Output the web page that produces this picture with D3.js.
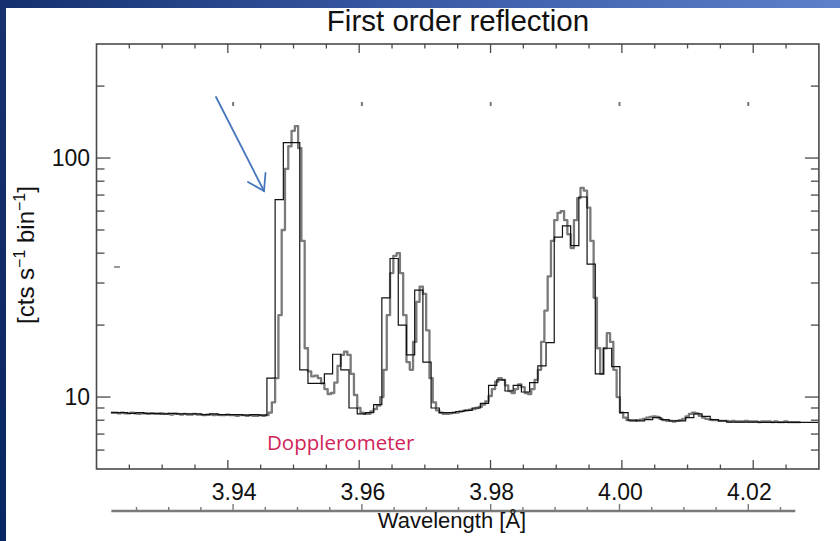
<!DOCTYPE html>
<html><head><meta charset="utf-8">
<script src="https://cdn.jsdelivr.net/npm/d3@7"></script>
<style>body{margin:0;background:#fff}svg{display:block}</style>
</head><body>
<svg id="c" width="840" height="541"></svg>
<script>
// ---- data ----
const grayStart = 3.9222, grayStep = 0.0005;
const grayCounts = [
 8.6,8.6,8.55,8.6,8.55,8.55,8.6,8.55,8.5,8.55,
 8.55,8.5,8.55,8.5,8.5,8.55,8.5,8.5,8.45,8.5,
 8.5,8.45,8.5,8.45,8.45,8.5,8.45,8.45,8.4,8.45,
 8.45,8.4,8.45,8.4,8.4,8.45,8.4,8.4,8.35,8.4,
 8.4,8.35,8.4,8.35,8.35,8.4,8.35,
 8.4,8.6,9.5,12,22,50,90,112,130,136,110,45,16,
 12.8,12.2,12.3,12.0,11.4,10.8,10.3,10.4,11.5,13.5,
 15.0,15.5,15.0,12.5,10.2,9.0,8.6,8.5,8.5,8.7,
 8.9,9.2,10,13,22,33,39,40,33,22,
 14,13,17,25,29,27,19,12,9.5,8.8,
 8.6,8.5,8.5,8.55,8.6,8.6,8.7,8.75,8.8,8.85,
 8.9,9.0,9.1,9.3,9.6,10.1,10.8,11.6,12.0,11.8,
 11.2,10.6,10.4,10.8,11.3,11.0,10.4,10.3,10.8,11.8,
 13,17,23,32,45,55,59,60,55,48,
 42,55,68,75,73,62,45,26,16,12.5,
 16,18.5,17,13,10,8.6,8.2,8.0,7.95,7.95,
 8.0,8.05,8.1,8.2,8.25,8.3,8.25,8.1,8.0,7.95,
 7.95,7.9,7.95,8.0,8.1,8.3,8.5,8.6,8.55,8.35,
 8.2,8.1,8.05,8.0,8.0,7.95,7.95,7.95,7.9,7.95,
 7.9,7.9,7.9,7.95,7.9,7.9,7.9,7.85,7.9,7.9,
 7.9,7.85,7.9,7.85,7.85,7.9,7.85,7.85,7.85,7.85
];
const blackStart = 3.9222, blackStep = 0.00125;
const blackCounts = [
 8.6,8.6,8.55,8.6,8.55,8.55,8.5,8.55,8.5,8.5,8.5,8.45,8.5,8.45,8.45,8.45,8.4,8.45,8.4,
 12.0,67,116,116,13.0,11.4,11.4,12.5,15.1,13,9.0,
 8.5,8.6,9.3,26,38,20,15,28,14,9.0,
 8.6,8.6,8.7,8.8,9.0,9.4,11.2,11.8,10.6,11.2,
 10.5,11.5,13.5,16.9,46.7,52,43,68.7,36,12.5,
 16,13.4,8.6,8.0,7.95,8.05,8.2,8.05,7.95,7.95,
 8.2,8.5,8.3,8.05,7.95,7.85,7.85,7.85,7.85,7.84,
 7.84,7.84,7.84,7.84,7.84,7.84,7.84
];
const xMajorTicks = [3.94, 3.96, 3.98, 4.00, 4.02];
const xTickLabels = ["3.94", "3.96", "3.98", "4.00", "4.02"];
const yMajorTicks = [10, 100];
const yTickLabels = ["10", "100"];
const yMinorTicks = [6,7,8,9,20,30,40,50,60,70,80,90,200];
const title = "First order reflection";
const xTitle = "Wavelength [Å]";
const annotation = "Dopplerometer";

// ---- drawing ----
const svg = d3.select('#c');
const defs = svg.append('defs');
const gTop = defs.append('linearGradient').attr('id','gt').attr('x1','0').attr('x2','1').attr('y1','0').attr('y2','0');
gTop.append('stop').attr('offset','0').attr('stop-color','#14306e');
gTop.append('stop').attr('offset','0.5').attr('stop-color','#3a5aa6');
gTop.append('stop').attr('offset','1').attr('stop-color','#5c80ca');
const gLeft = defs.append('linearGradient').attr('id','gl').attr('x1','0').attr('x2','0').attr('y1','0').attr('y2','1');
gLeft.append('stop').attr('offset','0').attr('stop-color','#17326f');
gLeft.append('stop').attr('offset','1').attr('stop-color','#082663');

svg.append('rect').attr('width',840).attr('height',541).attr('fill','#fff');
svg.append('rect').attr('x',0).attr('y',0).attr('width',840).attr('height',8).attr('fill','url(#gt)');
svg.append('rect').attr('x',0).attr('y',0).attr('width',6).attr('height',541).attr('fill','url(#gl)');

const x = d3.scaleLinear().domain([3.92, 4.03]).range([96.5, 818.9]);
const y = d3.scaleLog().domain([5, 300]).range([469, 44]);
const xLow = d3.scaleLinear().domain([3.925, 4.02]).range([136.5, 748.3]);

const font = "'Liberation Sans', Arial, Helvetica, sans-serif";
const axisColor = '#4a4a4a';

defs.append('clipPath').attr('id','clip').append('rect')
  .attr('x', x(3.92)).attr('y', y(300)).attr('width', x(4.03)-x(3.92)).attr('height', y(5)-y(300));

const xAll = d3.range(0, 22).map(i => +(3.925 + i*0.005).toFixed(3)).filter(v => v < 4.03);
const isMajor = v => xMajorTicks.some(m => Math.abs(m - v) < 1e-6);

function steps(start, step, counts) {
  const pts = counts.map((v,i) => [start + i*step, v]);
  pts.push([start + counts.length*step, counts[counts.length-1]]);
  return pts;
}
const line = d3.line().x(d => x(d[0])).y(d => y(d[1])).curve(d3.curveStepAfter);
const plot = svg.append('g').attr('clip-path','url(#clip)');
plot.append('path').attr('d', line(steps(grayStart, grayStep, grayCounts)))
  .attr('fill','none').attr('stroke','#7a7a7a').attr('stroke-width',2.3).attr('stroke-linejoin','round');
plot.append('path').attr('d', line(steps(blackStart, blackStep, blackCounts)))
  .attr('fill','none').attr('stroke','#111').attr('stroke-width',1.2);

const axG = svg.append('g').attr('stroke', axisColor).attr('stroke-width', 1.3);
xAll.forEach(v => {
  const L = isMajor(v) ? 9 : 4.5;
  axG.append('line').attr('x1', x(v)).attr('x2', x(v)).attr('y1', y(300)).attr('y2', y(300)+L);
  axG.append('line').attr('x1', x(v)).attr('x2', x(v)).attr('y1', y(5)).attr('y2', y(5)-L);
});
yMajorTicks.concat(yMinorTicks).forEach(v => {
  const L = yMajorTicks.includes(v) ? 14 : 8;
  axG.append('line').attr('x1', x(3.92)).attr('x2', x(3.92)+L).attr('y1', y(v)).attr('y2', y(v));
  axG.append('line').attr('x1', x(4.03)).attr('x2', x(4.03)-L).attr('y1', y(v)).attr('y2', y(v));
});
svg.append('rect').attr('x', x(3.92)).attr('y', y(300)).attr('width', x(4.03)-x(3.92)).attr('height', y(5)-y(300))
  .attr('fill','none').attr('stroke', axisColor).attr('stroke-width', 1.6);

xMajorTicks.forEach(v => {
  svg.append('rect').attr('x', xLow(v)-1).attr('y', 102).attr('width', 2).attr('height', 4).attr('fill', '#777');
});
svg.append('line').attr('x1', 114).attr('x2', 120).attr('y1', 267).attr('y2', 267).attr('stroke','#777').attr('stroke-width',1.5);

const low = svg.append('g').attr('stroke','#7a7a7a');
low.append('line').attr('x1', xLow(3.9211)).attr('x2', xLow(4.0273)).attr('y1', 511).attr('y2', 511).attr('stroke-width', 2.6);
xAll.filter(v => v <= 4.0273).forEach(v => {
  const L = isMajor(v) ? 7 : 4;
  low.append('line').attr('x1', xLow(v)).attr('x2', xLow(v)).attr('y1', 511).attr('y2', 511-L).attr('stroke-width', 1.4);
});

xMajorTicks.forEach((v,i) => {
  svg.append('text').attr('x', xLow(v)+1).attr('y', 500).attr('text-anchor','middle')
    .attr('font-family', font).attr('font-size', 23).attr('fill','#111').text(xTickLabels[i]);
});
yMajorTicks.forEach((v,i) => {
  svg.append('text').attr('x', 90).attr('y', y(v)+8).attr('text-anchor','end')
    .attr('font-family', font).attr('font-size', 23).attr('fill','#111').text(yTickLabels[i]);
});

svg.append('text').attr('x', 458).attr('y', 31).attr('text-anchor','middle')
  .attr('font-family', font).attr('font-size', 29.5).attr('fill','#111').text(title);
svg.append('text').attr('x', 452).attr('y', 528).attr('text-anchor','middle')
  .attr('font-family', font).attr('font-size', 22).attr('fill','#111').text(xTitle);
const yl = svg.append('text').attr('transform','translate(34,255) rotate(-90)').attr('text-anchor','middle')
  .attr('font-family', font).attr('font-size', 24).attr('fill','#111');
yl.append('tspan').text('[cts s');
yl.append('tspan').attr('dy', -9).attr('font-size', 16).text('\u22121');
yl.append('tspan').attr('dy', 9).text(' bin');
yl.append('tspan').attr('dy', -9).attr('font-size', 16).text('\u22121');
yl.append('tspan').attr('dy', 9).text(']');

svg.append('text').attr('x', 267).attr('y', 450).attr('font-family', "'Open Sans', 'Noto Sans', sans-serif")
  .attr('font-size', 20.5).attr('fill', '#cf2458').text(annotation);

const ar = svg.append('g').attr('stroke', '#4677bd').attr('stroke-width', 1.8).attr('fill','none').attr('stroke-linecap','round');
ar.append('line').attr('x1', 216).attr('y1', 97).attr('x2', 264).attr('y2', 191);
ar.append('polyline').attr('points', '248,182 264,191 265.5,173');
</script>
</body></html>
